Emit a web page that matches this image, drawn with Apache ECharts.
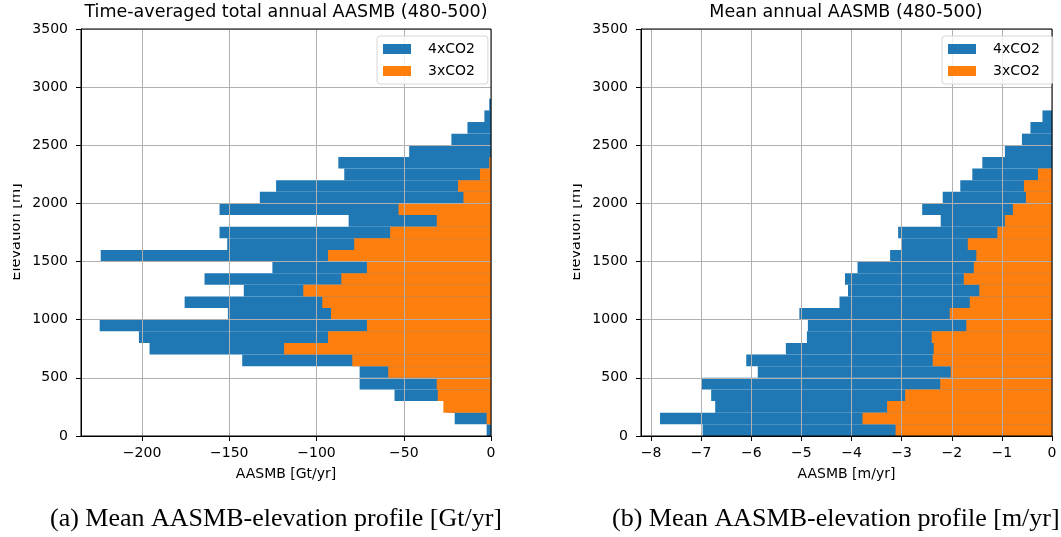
<!DOCTYPE html>
<html>
<head>
<meta charset="utf-8">
<script src="https://cdn.jsdelivr.net/npm/echarts@6/dist/echarts.min.js"></script>
<style>
  html, body { margin: 0; padding: 0; background: #ffffff; }
  #chart { width: 1061px; height: 537px; }
</style>
</head>
<body>
<div id="chart"></div>
<script>
// Lower edge of each 100 m elevation band [m]
const bandLower = [0, 100, 200, 300, 400, 500, 600, 700, 800, 900,
                   1000, 1100, 1200, 1300, 1400, 1500, 1600, 1700, 1800, 1900,
                   2000, 2100, 2200, 2300, 2400, 2500, 2600, 2700, 2800];
const bandWidth = 100;

// Time-averaged total annual AASMB per band [Gt/yr]
const totalCO2x4 = [-2.5, -20.8, -25, -55.3, -75.3, -75.3, -142.6, -195.7, -201.8, -224.3,
                    -150.8, -175.6, -141.7, -164.2, -125.3, -223.7, -151.2, -155.6, -81.6, -155.6,
                    -132.5, -123.2, -84.1, -87.5, -46.9, -22.7, -13.5, -3.8, -1.0];
const totalCO2x3 = [0, -2.5, -27.3, -30.5, -31.1, -58.9, -79.5, -118.6, -93.4, -71.1,
                    -91.7, -96.7, -107.6, -85.8, -71.1, -93.4, -78.4, -57.8, -31.1, -53.0,
                    -15.8, -18.9, -6.3, -1.0, 0, 0, 0, 0, 0];

// Mean annual AASMB per band [m/yr]
const meanCO2x4 = [-6.97, -7.82, -6.72, -6.80, -6.99, -5.87, -6.10, -5.31, -4.89, -4.87,
                   -5.04, -4.24, -4.07, -4.13, -3.88, -3.23, -3.01, -3.07, -2.22, -2.59,
                   -2.18, -1.83, -1.59, -1.39, -0.94, -0.60, -0.43, -0.19, 0];
const meanCO2x3 = [-3.12, -3.78, -3.29, -2.93, -2.23, -2.02, -2.38, -2.36, -2.40, -1.71,
                   -2.04, -1.64, -1.45, -1.76, -1.56, -1.51, -1.68, -1.09, -0.94, -0.78,
                   -0.52, -0.56, -0.28, 0, 0, 0, 0, 0, 0];

// Tick labels
const ticksGt = [-200, -150, -100, -50, 0];
const ticksM = [-8, -7, -6, -5, -4, -3, -2, -1, 0];

const seriesNames = ['4xCO2', '3xCO2'];
const colors = ['#1f77b4', '#ff7f0e'];

const FONT = 'DejaVu Sans';
const minus = v => String(v).replace('-', '\u2212');

function bandData(values) {
  return values.map((v, i) => [bandLower[i], bandLower[i] + bandWidth, v]);
}

// Horizontal step bar spanning one elevation band, from 0 to the value
function renderBand(params, api) {
  const lo = api.value(0), hi = api.value(1), v = api.value(2);
  const a = api.coord([v, hi]);
  const b = api.coord([0, lo]);
  return {
    type: 'rect',
    shape: { x: Math.min(a[0], b[0]), y: a[1], width: Math.abs(b[0] - a[0]), height: b[1] - a[1] },
    style: { fill: api.visual('color') }
  };
}

function xAxisFor(gridIndex, min, ticks, name) {
  return {
    type: 'value', gridIndex, min, max: 0, z: 5,
    name, nameLocation: 'middle', nameGap: 31,
    nameTextStyle: { fontFamily: FONT, fontSize: 14, color: '#000' },
    axisLine: { show: true, onZero: false, lineStyle: { color: '#000', width: 1 } },
    axisTick: { show: true, length: 5, inside: false, customValues: ticks, lineStyle: { color: '#000' } },
    axisLabel: { customValues: ticks, margin: 10, fontFamily: FONT, fontSize: 14, color: '#000', formatter: minus },
    splitLine: { show: true, lineStyle: { color: '#b0b0b0', width: 1 } }
  };
}

function yAxisFor(gridIndex) {
  return {
    type: 'value', gridIndex, min: 0, max: 3500, interval: 500, z: 5,
    axisLine: { show: true, onZero: false, lineStyle: { color: '#000', width: 1 } },
    axisTick: { show: true, length: 5, lineStyle: { color: '#000' } },
    axisLabel: { margin: 13, fontFamily: FONT, fontSize: 14, color: '#000', formatter: v => String(v) },
    splitLine: { show: true, lineStyle: { color: '#b0b0b0', width: 1 } }
  };
}

function legendAt(left) {
  return {
    orient: 'vertical', left, top: 36,
    data: seriesNames, icon: 'rect', itemWidth: 28, itemHeight: 10, itemGap: 8,
    padding: [6, 13, 6, 6],
    backgroundColor: 'rgba(255,255,255,0.8)', borderColor: '#d6d6d6', borderWidth: 1, borderRadius: 3,
    textStyle: { fontFamily: FONT, fontSize: 14, lineHeight: 14, color: '#000', padding: [0, 0, 0, 12] },
    selectedMode: false, z: 10
  };
}

function bandSeries(name, color, values, axisIndex) {
  return {
    type: 'custom', name, xAxisIndex: axisIndex, yAxisIndex: axisIndex,
    itemStyle: { color }, renderItem: renderBand,
    encode: { x: 2, y: [0, 1] }, data: bandData(values), z: 2
  };
}

const chart = echarts.init(document.getElementById('chart'), null, { renderer: 'canvas' });
chart.setOption({
  animation: false,
  backgroundColor: '#ffffff',
  title: [
    { text: 'Time-averaged total annual AASMB (480-500)', left: 286, top: 3, textAlign: 'center', padding: 0,
      textStyle: { fontFamily: FONT, fontSize: 17.5, fontWeight: 'normal', color: '#000' } },
    { text: 'Mean annual AASMB (480-500)', left: 846, top: 3, textAlign: 'center', padding: 0,
      textStyle: { fontFamily: FONT, fontSize: 17.5, fontWeight: 'normal', color: '#000' } }
  ],
  grid: [
    { left: 81, top: 29, width: 410, height: 407, show: true, borderColor: '#000', borderWidth: 1, backgroundColor: 'transparent', z: 6 },
    { left: 641, top: 29, width: 411, height: 407, show: true, borderColor: '#000', borderWidth: 1, backgroundColor: 'transparent', z: 6 }
  ],
  legend: [legendAt(377), legendAt(942)],
  xAxis: [
    xAxisFor(0, -235, ticksGt, 'AASMB [Gt/yr]'),
    xAxisFor(1, -8.2, ticksM, 'AASMB [m/yr]')
  ],
  yAxis: [yAxisFor(0), yAxisFor(1)],
  series: [
    bandSeries(seriesNames[0], colors[0], totalCO2x4, 0),
    bandSeries(seriesNames[1], colors[1], totalCO2x3, 0),
    bandSeries(seriesNames[0], colors[0], meanCO2x4, 1),
    bandSeries(seriesNames[1], colors[1], meanCO2x3, 1)
  ],
  graphic: [
    // Elevation axis titles, trimmed at the panel edge
    { type: 'text', x: 23.5, y: 232, rotation: Math.PI / 2, z: 1,
      style: { text: 'Elevation [m]', fontFamily: FONT, fontSize: 14.5, fill: '#000', align: 'center', verticalAlign: 'bottom' } },
    { type: 'text', x: 583.5, y: 232, rotation: Math.PI / 2, z: 1,
      style: { text: 'Elevation [m]', fontFamily: FONT, fontSize: 14.5, fill: '#000', align: 'center', verticalAlign: 'bottom' } },
    { type: 'rect', shape: { x: 0, y: 160, width: 13, height: 150 }, style: { fill: '#ffffff' }, z: 2 },
    { type: 'rect', shape: { x: 556, y: 160, width: 17, height: 150 }, style: { fill: '#ffffff' }, z: 2 },
    // Sub-figure captions
    { type: 'text', x: 50, y: 519, z: 1,
      style: { text: '(a) Mean AASMB-elevation profile [Gt/yr]', fontFamily: 'Liberation Serif', fontSize: 26, fill: '#000', verticalAlign: 'middle' } },
    { type: 'text', x: 612, y: 519, z: 1,
      style: { text: '(b) Mean AASMB-elevation profile [m/yr]', fontFamily: 'Liberation Serif', fontSize: 26, fill: '#000', verticalAlign: 'middle' } }
  ]
});
</script>
</body>
</html>
